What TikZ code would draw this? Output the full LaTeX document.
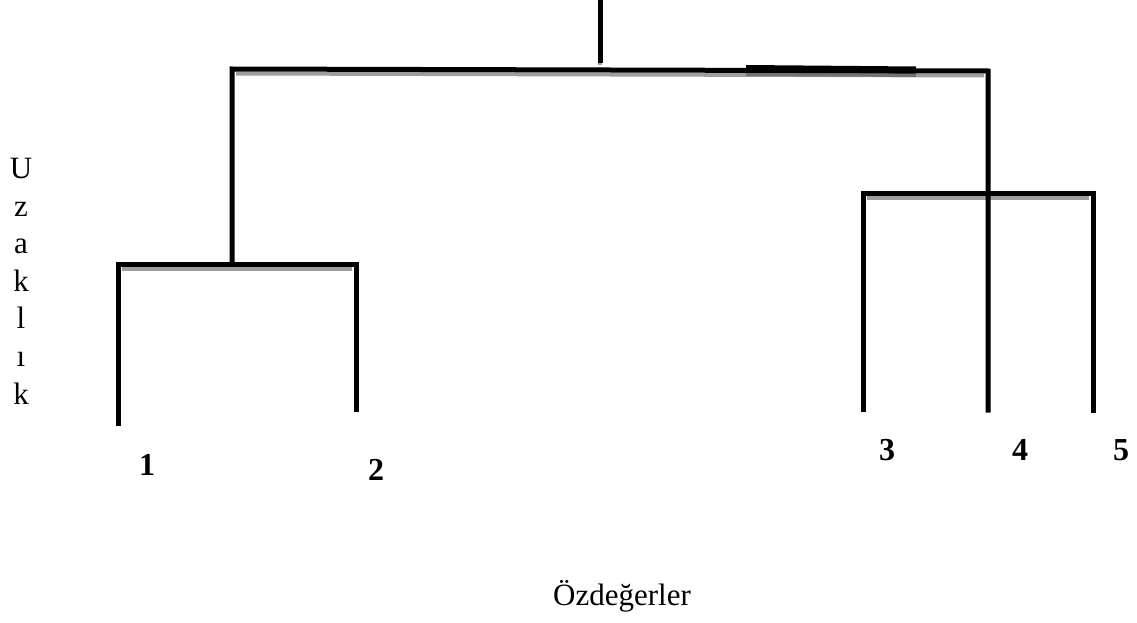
\documentclass[tikz,border=0pt]{standalone}
\usepackage{fontspec}
\setmainfont{Liberation Serif}
\begin{document}
\begin{tikzpicture}[x=1pt,y=-1pt,
  branch/.style={line width=5pt,black,line cap=rect},
  shade/.style={line width=4pt,black!38},
  leaf/.style={font=\fontsize{32}{36}\selectfont\bfseries,inner sep=0pt},
  axislabel/.style={font=\fontsize{31}{37.6}\selectfont,inner sep=0pt}]
\useasboundingbox (0,0) rectangle (1137,623);

% junction points of the tree
\coordinate (root) at (600,2);
\coordinate (rootfoot) at (600,61);
\coordinate (tl) at (232,69);
\coordinate (tr) at (988,71);
\coordinate (ljoin) at (232,264);
\coordinate (l1) at (118,264);
\coordinate (l2) at (356,264);
\coordinate (rl) at (863,193);
\coordinate (rr) at (1093,193);
\coordinate (b1) at (118,423);
\coordinate (b2) at (356,409);
\coordinate (b3) at (863,409);
\coordinate (b4) at (988,410);
\coordinate (b5) at (1093,410);

% soft grey shadows under the horizontal bars
\draw[shade] ([xshift=4pt,yshift=-4.5pt]tl) -- ([xshift=-4pt,yshift=-4.5pt]tr);
\draw[shade] ([xshift=4pt,yshift=-4.5pt]l1) -- ([xshift=-4pt,yshift=-4.5pt]l2);
\draw[shade] ([xshift=4pt,yshift=-4.5pt]rl) -- ([xshift=-4pt,yshift=-4.5pt]rr);
\draw[shade] (600,60) -- (600,65);
\draw[line width=4pt,black!55] (746,74) -- (916,75);

% branches
\draw[branch] (root) -- (rootfoot);
\draw[branch] (b1) -- (l1) -- (l2) -- (b2);
\draw[branch] (ljoin) -- (tl) -- (tr) -- (b4);
\draw[branch] (b3) -- (rl) -- (rr) -- (b5);
\draw[line width=7pt,black] (746,68.5) -- (916,70);

% leaf labels
\node[leaf] (n1) at (147,465) {1};
\node[leaf] (n2) at (376,470) {2};
\node[leaf] (n3) at (887,450) {3};
\node[leaf] (n4) at (1020,450) {4};
\node[leaf] (n5) at (1121,450) {5};

% axis titles
\node[axislabel,align=center,anchor=north] (dist) at (21,158)
  {U\\z\\a\\k\\l\\ı\\k};
\node[axislabel] (eig) at (622,596) {Özdeğerler};
\end{tikzpicture}
\end{document}
